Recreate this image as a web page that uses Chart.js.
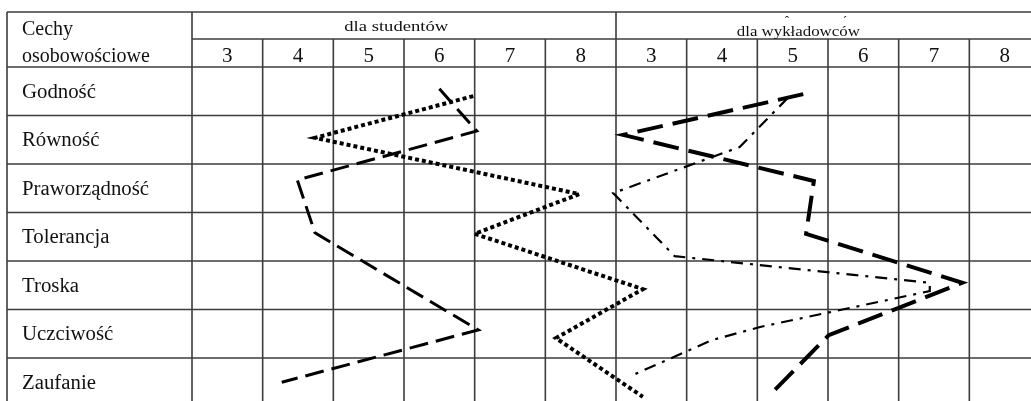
<!DOCTYPE html>
<html>
<head>
<meta charset="utf-8">
<script src="https://cdn.jsdelivr.net/npm/chart.js@4"></script>
<style>
  html, body { margin: 0; padding: 0; background: #fff; overflow: hidden; }
  #wrap { width: 1031px; height: 401px; overflow: hidden; position: relative; }
  canvas { display: block; }
</style>
</head>
<body>
<div id="wrap"><canvas id="c" width="1042" height="408"></canvas></div>
<script>
// ---- data ----
const rowLabels = ['Godność', 'Równość', 'Praworządność', 'Tolerancja', 'Troska', 'Uczciwość', 'Zaufanie'];
const scoreTicks = [3, 4, 5, 6, 7, 8];
const groupLabels = ['dla studentów', 'dla wykładowców'];
const cornerLabel = ['Cechy', 'osobowościowe'];

// students panel (x = score 3..8, y = row position, 0 = Godność)
const studDottedX = [6.48, 4.24, 7.98, 6.50, 8.88, 7.65, 8.88];
const studDottedY = [0.10, 0.96, 2.12, 2.94, 4.08, 5.09, 6.30];
const studDashedX = [6.00, 6.53, 3.99, 4.24, 6.55, 3.77];
const studDashedY = [-0.05, 0.82, 1.83, 2.92, 4.92, 6.00];

// lecturers panel
const lectDashedX = [5.15, 2.60, 5.30, 5.19, 7.40, 5.51, 4.72];
const lectDashedY = [0.06, 0.90, 1.85, 2.94, 3.95, 5.03, 6.20];
const lectDashDotX = [4.93, 4.25, 2.46, 3.33, 6.94, 6.94, 4.54, 3.86, 2.74];
const lectDashDotY = [0.14, 1.15, 2.10, 3.40, 3.95, 4.12, 4.86, 5.13, 5.85];

const pts = (xs, ys) => xs.map((x, i) => ({ x: x, y: ys[i] }));

const tablePlugin = {
  id: 'table',
  beforeDatasetsDraw(chart) {
    const ctx = chart.ctx;
    const xs = chart.scales.x, x2 = chart.scales.x2, ys = chart.scales.y;
    const X = v => xs.getPixelForValue(v);
    const X2 = v => x2.getPixelForValue(v);
    const Y = v => ys.getPixelForValue(v);
    const left = X(xs.min), right = X(xs.max);
    const top = Y(ys.min), bottom = Y(ys.max);
    const subY = Y(-1.077), headBottom = Y(-0.5);
    ctx.save();
    ctx.strokeStyle = '#3c3c3c';
    ctx.lineWidth = 1.6;
    const line = (a, b, c, d) => { ctx.beginPath(); ctx.moveTo(a, b); ctx.lineTo(c, d); ctx.stroke(); };
    // horizontal lines
    line(left, top, right, top);
    line(X(2.5), subY, right, subY);
    line(left, headBottom, right, headBottom);
    for (let i = 0; i < rowLabels.length; i++) {
      const yb = Y(i + 0.5);
      line(left, yb, right, yb);
    }
    // vertical lines
    line(left, top, left, bottom);
    line(X(2.5), top, X(2.5), bottom);
    line(X(8.5), top, X(8.5), bottom);
    line(right, top, right, bottom);
    for (let v = 3.5; v < 8.5; v++) {
      line(X(v), subY, X(v), bottom);
      line(X2(v), subY, X2(v), bottom);
    }
    // texts
    ctx.fillStyle = '#111';
    ctx.textBaseline = 'alphabetic';
    const wide = (txt, x, y, sx) => {
      ctx.save();
      ctx.translate(x, y);
      ctx.scale(sx, 1);
      ctx.textAlign = 'left';
      ctx.fillText(txt, 0, 0);
      ctx.restore();
    };
    ctx.font = '20px "Liberation Serif", "DejaVu Serif", serif';
    wide(cornerLabel[0], 22, 35, 1.0);
    wide(cornerLabel[1], 22, 62, 1.0);
    rowLabels.forEach((lab, i) => {
      wide(lab, 22, Y(i) + 6.5, 1.04);
    });
    // group headers (slightly stretched like the scan)
    const drawStretched = (txt, cx, by, w) => {
      ctx.save();
      ctx.font = '15px "Liberation Serif", serif';
      const m = ctx.measureText(txt).width;
      ctx.translate(cx, by);
      ctx.scale(w / m, 1);
      ctx.textAlign = 'center';
      ctx.fillText(txt, 0, 0);
      ctx.restore();
    };
    drawStretched(groupLabels[0], X(5.39), 31, 104);
    drawStretched(groupLabels[1], X2(5.08), 36, 123);
    // small stray marks above the lecturers header (as in the scan)
    ctx.font = '13px "Liberation Serif", serif';
    ctx.textAlign = 'center';
    ctx.fillText('ˆ', X2(4.92), 25);
    ctx.fillText('ˊ', X2(5.74), 25);
    // score tick labels
    ctx.font = '21px "Liberation Serif", serif';
    ctx.textAlign = 'center';
    scoreTicks.forEach(t => {
      ctx.fillText(String(t), X(t), 62);
      ctx.fillText(String(t), X2(t), 62);
    });
    ctx.restore();
  }
};

new Chart(document.getElementById('c'), {
  type: 'scatter',
  data: {
    datasets: [
      { label: 'studenci 1', data: pts(studDottedX, studDottedY), xAxisID: 'x', yAxisID: 'y',
        showLine: true, borderColor: '#000', borderWidth: 4, borderDash: [4, 3], borderCapStyle: 'butt',
        pointRadius: 0, fill: false, tension: 0 },
      { label: 'studenci 2', data: pts(studDashedX, studDashedY), xAxisID: 'x', yAxisID: 'y',
        showLine: true, borderColor: '#000', borderWidth: 3, borderDash: [19, 8], borderCapStyle: 'butt',
        pointRadius: 0, fill: false, tension: 0 },
      { label: 'wykładowcy 1', data: pts(lectDashedX, lectDashedY), xAxisID: 'x2', yAxisID: 'y',
        showLine: true, borderColor: '#000', borderWidth: 4, borderDash: [26, 10], borderCapStyle: 'butt',
        pointRadius: 0, fill: false, tension: 0 },
      { label: 'wykładowcy 2', data: pts(lectDashDotX, lectDashDotY), xAxisID: 'x2', yAxisID: 'y',
        showLine: true, borderColor: '#000', borderWidth: 2.2, borderDash: [12, 7, 3, 7], borderCapStyle: 'butt',
        pointRadius: 0, fill: false, tension: 0 }
    ]
  },
  options: {
    responsive: false,
    animation: false,
    devicePixelRatio: 1,
    layout: { padding: { left: 7, right: 2, top: 12, bottom: 1.5 } },
    plugins: { legend: { display: false }, tooltip: { enabled: false } },
    scales: {
      x: { type: 'linear', min: -0.118, max: 14.5, display: false },
      x2: { type: 'linear', min: -6.118, max: 8.5, display: false },
      y: { type: 'linear', min: -1.634, max: 6.5, reverse: true, display: false }
    }
  },
  plugins: [tablePlugin]
});
</script>
</body>
</html>
